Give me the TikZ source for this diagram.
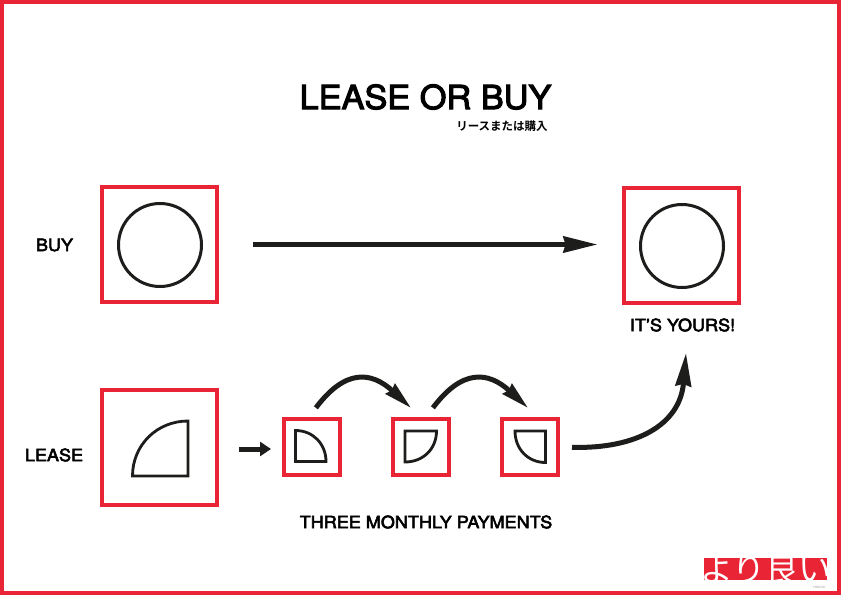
\documentclass[tikz,border=0pt]{standalone}
\usepackage{fontspec}
\usetikzlibrary{arrows.meta}
\setmainfont{Liberation Sans}
\newfontfamily\heads[FakeBold=3.2,FakeStretch=1.06]{TeX Gyre Heros}
\newfontfamily\titlefont[FakeBold=3.2,FakeStretch=1.04]{TeX Gyre Heros}
\newfontfamily\jp{Noto Sans CJK JP Bold}
\newfontfamily\jplogo{Noto Sans CJK JP}
\definecolor{brandred}{HTML}{E92535}
\definecolor{ink}{HTML}{1D1D1B}
\tikzset{
  frameline/.style={draw=brandred,line width=4pt},
  bigbox/.style={draw=brandred,line width=4.4pt,minimum size=115pt,inner sep=0pt,outer sep=0pt,fill=white},
  smallbox/.style={draw=brandred,line width=4.2pt,minimum size=56pt,inner sep=0pt,outer sep=0pt,fill=white},
  disc/.style={circle,draw=ink,line width=3pt,minimum size=83pt,inner sep=0pt},
  piece/.style={draw=ink,line width=2.8pt,line join=miter},
  label/.style={font=\heads\fontsize{17}{19}\selectfont,text=black,inner sep=0pt},
  flow/.style={draw=ink,line width=5pt,-{Stealth[length=#1,width=#1*0.47,inset=#1*0.06]}},
  flow/.default=26pt
}
\begin{document}
\begin{tikzpicture}[x=1pt,y=-1pt]
\useasboundingbox (0,0) rectangle (842,596);
\fill[white] (0,0) rectangle (842,596);
\draw[frameline] (2,2) rectangle (839,593);
\node[font=\titlefont\fontsize{33}{38}\selectfont,inner sep=0pt] (title) at (425.5,97) {LEASE OR BUY};
\node[font=\jp\fontsize{11.5}{13}\selectfont,inner sep=0pt] (sub) at (502,126) {リースまたは購入};
\node[label] (buy) at (54.5,245) {BUY};
\node[label] (lease) at (54,455) {LEASE};
\node[label] (yours) at (682.5,325) {IT’S YOURS!};
\node[label] (three) at (426,522) {THREE MONTHLY PAYMENTS};
\node[bigbox] (buyA) at (159.5,244.5) {};
\node[bigbox] (buyB) at (681.5,245.5) {};
\node[disc] (discA) at (160,245) {};
\node[disc] (discB) at (682,246) {};
\node[bigbox] (leaseA) at (159.5,447.5) {};
\node[smallbox] (payA) at (312,447) {};
\node[smallbox] (payB) at (421,447) {};
\node[smallbox] (payC) at (530,447) {};
\draw[piece] (132.5,476) -- (188,476) -- (188,421) .. controls (157,421) and (132.5,445) .. cycle;
\draw[piece] (295.5,430.5) -- (295.5,461.5) -- (326,461.5) .. controls (326,444) and (313,430.5) .. cycle;
\draw[piece] (405,431) -- (436.5,431) .. controls (436.5,449) and (423,462) .. (405,462) -- cycle;
\draw[piece] (545.5,431) -- (515,431) .. controls (515,449) and (528,462.5) .. (545.5,462.5) -- cycle;
\draw[flow=34pt,shorten <=36pt,shorten >=26.5pt] (buyA.east) -- (buyB.west |- buyA.east);
\draw[draw=ink,line width=5pt,-{Stealth[length=11pt,width=14pt,inset=0pt]},shorten <=22pt,shorten >=13pt] (leaseA.east) ++(0,1.5) coordinate (lf) -- (payA.west |- lf);
\draw[flow=28pt,shorten <=14pt,shorten >=16pt] ([xshift=-4.5pt]payA.north) .. controls (345,369) and (371,371) .. ([xshift=2pt]payB.north);
\draw[flow=28pt,shorten <=14pt,shorten >=16pt] ([xshift=3.5pt]payB.north) .. controls (462,369) and (488,371) .. ([xshift=10pt]payC.north);
\coordinate (yoursend) at (686,353);
\draw[flow=33pt,shorten <=14pt] (payC.east) .. controls (636,449) and (680,425) .. (yoursend);
\fill[brandred] (704,558) rectangle (827,580);
\node[font=\jplogo\fontsize{33}{35}\selectfont,text=white,inner sep=0pt] (logo) at (766,569) {より良い};
\fill[white] (700,580) rectangle (830,590);
\node[font=\fontsize{3}{4}\selectfont,text=black!40,inner sep=0pt] (roman) at (819,587.3) {YORIYOI};
\end{tikzpicture}
\end{document}
